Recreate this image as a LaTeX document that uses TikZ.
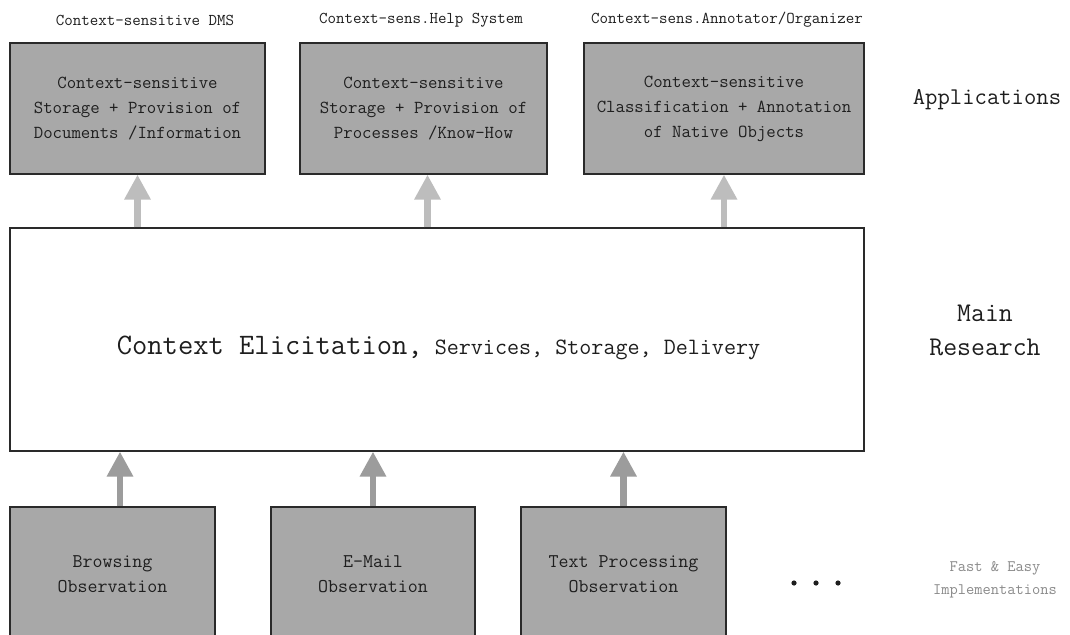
\documentclass[tikz,border=0pt]{standalone}
\usepackage{fontspec}
\usetikzlibrary{arrows.meta}
\definecolor{boxfill}{HTML}{A8A8A8}
\definecolor{boxline}{HTML}{2A2A2A}
\definecolor{toparrow}{HTML}{BDBDBD}
\definecolor{botarrow}{HTML}{9C9C9C}
\definecolor{inktext}{HTML}{1E1E1E}
\definecolor{softtext}{HTML}{8A8A8A}
\begin{document}
\begin{tikzpicture}[x=1pt,y=-1pt,
  box/.style={draw=boxline, line width=1.3pt, fill=boxfill, inner sep=0pt,
    align=center, text=inktext, font=\ttfamily\fontsize{18.3}{25}\selectfont},
  mainbox/.style={draw=boxline, line width=1.2pt, fill=white, inner sep=0pt},
  applabel/.style={text=inktext, font=\ttfamily\fontsize{16.5}{18}\selectfont, inner sep=0pt},
  layer/.style={text=inktext, align=center, inner sep=0pt},
  uparrow/.style={line width=6.5pt, draw=#1, -{Triangle[width=25pt,length=25pt,fill=#1]}},
]
\useasboundingbox (0,0) rectangle (1070,634);
\clip (0,0) rectangle (1070,634);
\fill[white] (0,0) rectangle (1070,634);

% application boxes
\node[box, minimum width=255pt, minimum height=131pt] (t1) at (137.5,108.5)
  {Context-sensitive\\Storage + Provision of\\Documents /Information};
\node[box, minimum width=247pt, minimum height=131pt] (t2) at (423.5,108.5)
  {Context-sensitive\\Storage + Provision of\\Processes /Know-How};
\node[box, minimum width=280pt, minimum height=131pt] (t3) at (724,108.5)
  {Context-sensitive\\Classification + Annotation\\of Native Objects};

% application titles
\node[applabel] (l1) at (145,20) {Context-sensitive DMS};
\node[applabel] (l2) at (421,20) {Context-sens.Help System};
\node[applabel] (l3) at (727,20) {Context-sens.Annotator/Organizer};

% main research layer
\node[mainbox, minimum width=854pt, minimum height=223pt] (m) at (437,339.5) {};
\node[text=inktext, inner sep=0pt, font=\ttfamily] (mt) at (438.5,348)
  {{\fontsize{29.7}{32}\selectfont Context Elicitation,}{\fontsize{23.4}{26}\selectfont\ Services, Storage, Delivery}};

% observation boxes
\node[box, font=\ttfamily\fontsize{19.4}{25}\selectfont, minimum width=205pt, minimum height=134pt] (b1) at (112.5,574)
  {Browsing\\Observation};
\node[box, font=\ttfamily\fontsize{19.4}{25}\selectfont, minimum width=204pt, minimum height=134pt] (b2) at (373,574)
  {E-Mail\\Observation};
\node[box, font=\ttfamily\fontsize{19.4}{25}\selectfont, minimum width=205pt, minimum height=134pt] (b3) at (623.5,574)
  {Text Processing\\Observation};

% ellipsis
\fill[inktext] (794,583) circle (2.6pt) (816,583) circle (2.6pt) (838,583) circle (2.6pt);

% layer labels
\node[layer, font=\ttfamily\fontsize{24}{25}\selectfont] (la) at (987,100) {Applications};
\node[layer, font=\ttfamily\fontsize{27}{34}\selectfont] (lm) at (985,330) {Main\\Research};
\node[layer, text=softtext, font=\ttfamily\fontsize{16}{23}\selectfont] (lf) at (995,580) {Fast \& Easy\\Implementations};

% connectors
\draw[uparrow=toparrow] (t1.south |- m.north) -- (t1.south);
\draw[uparrow=toparrow] ([xshift=4pt]t2.south |- m.north) -- ([xshift=4pt]t2.south);
\draw[uparrow=toparrow] (t3.south |- m.north) -- (t3.south);
\draw[uparrow=botarrow] ([xshift=7.5pt]b1.north) -- ([xshift=7.5pt]b1.north |- m.south);
\draw[uparrow=botarrow] (b2.north) -- (b2.north |- m.south);
\draw[uparrow=botarrow] (b3.north) -- (b3.north |- m.south);
\end{tikzpicture}
\end{document}
